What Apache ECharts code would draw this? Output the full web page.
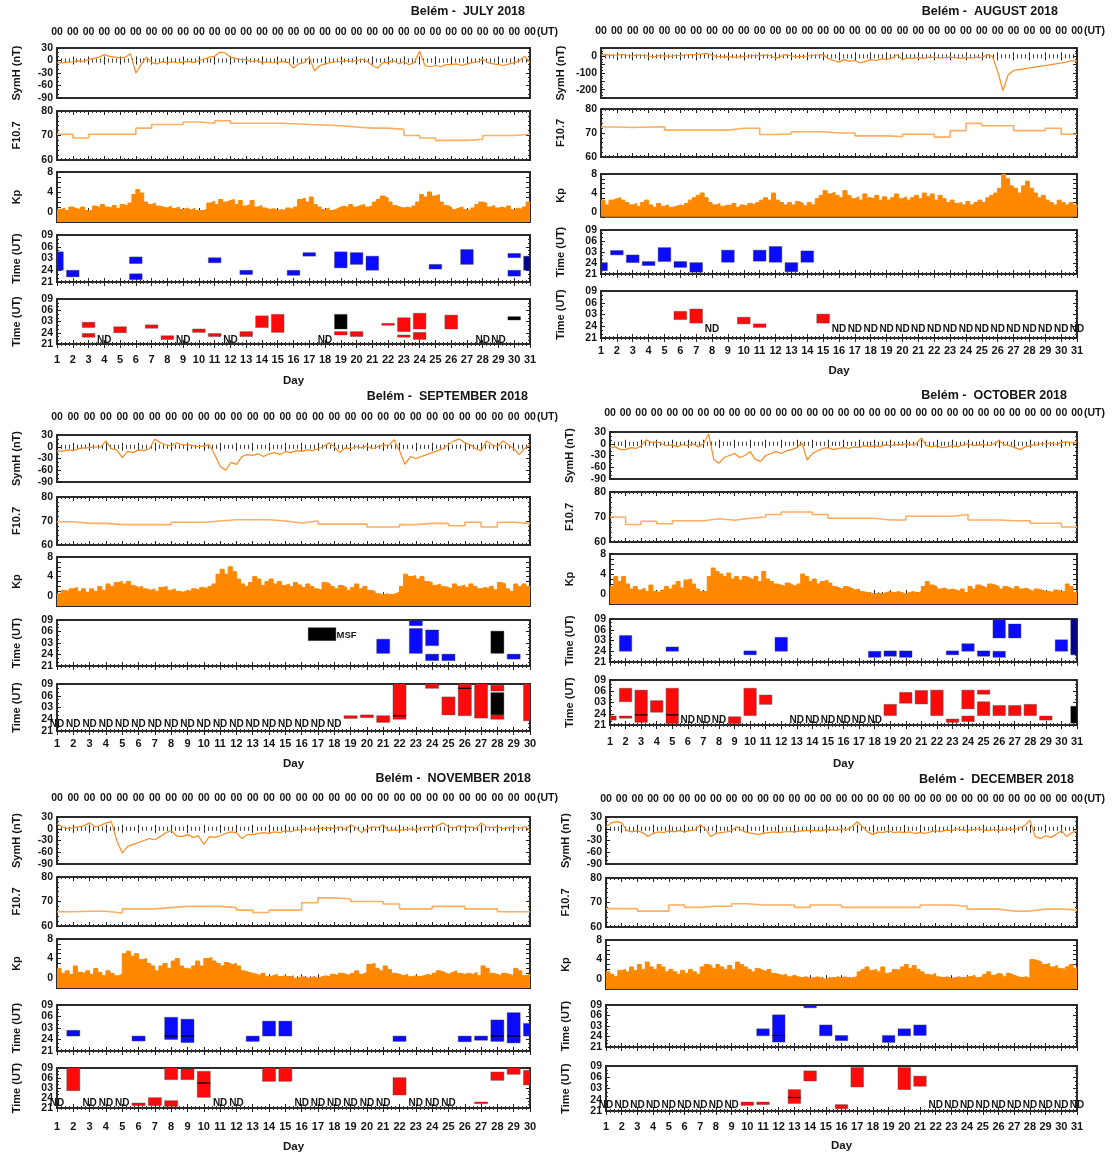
<!DOCTYPE html>
<html><head><meta charset="utf-8">
<script src="https://cdn.jsdelivr.net/npm/echarts@6/dist/echarts.min.js"></script>
<style>html,body{margin:0;padding:0;background:#fff}#c{width:1113px;height:1156px}</style>
</head><body><div id="c"></div>
<script>
// ---------------- DATA ----------------
const timeTickValues = [0, 3, 6, 9, 12];
const timeTickLabels = ['21','24','03','06','09'];
// SymH: 3 samples per day (00, 08, 16 UT)
const julySymH = [
 -5,-6,-4, -3,-1,-2, 2,5,8, 14,10,8, 6,8,16, -30,-10,8, -5,-8,-3, -5,-3,-6, -4,-2,-5, 0,3,8,
 10,20,18, 8,5,2, 2,-3,0, -5,-3,-6, -4,-2,-5, -18,-8,-5, 8,-25,-12, -8,-5,-3, -2,0,-3, 0,3,-2,
 -12,-18,-5, -5,0,-8, -3,-10,-5, 22,-12,-15, -12,-15,-10, -10,-8,-12, -8,-5,-3, 3,-5,-8, -10,-12,-8, -5,0,10,
 -5];
const augustSymH = [
 8,10,6, 8,12,5, 3,8,5, 2,-3,5, 3,0,5, 6,8,10, 10,14,18, 5,0,-3, -2,-5,-3, 0,2,5,
 4,8,5, -12,0,10, 2,-3,0, 2,5,8, 10,-15,-25, -35,-20,-30, -25,-40,-30, -20,-25,-15, -18,-12,10, -20,-10,-12,
 -8,-12,-5, -6,-10,-8, -5,-8,-12, -6,-10,-5, -8,10,0, -90,-205,-110, -85,-80,-75, -70,-65,-60, -55,-50,-45, -40,-35,-25,
 -30];
const septemberSymH = [
 -10,-12,-8, -10,-5,-3, -2,0,-1, 15,-5,-8, -28,-12,-15, -8,-10,-5, 20,10,5, 2,10,5, 5,3,0, 3,5,-20,
 -50,-60,-40, -45,-25,-20, -22,-18,-25, -18,-15,-20, -12,-15,-10, -12,-8,-10, -5,0,10, 0,-15,-3, -5,0,-3, 2,-5,0,
 5,3,18, -10,-45,-25, -30,-25,-20, -15,-10,-5, 5,15,20, 10,5,-5, -10,15,5, 0,15,5, -5,-20,-5,
 5];
const octoberSymH = [
 -10,-8,-15, -15,-10,-12, -5,10,3, 5,0,-5, -3,-8,-2, -5,0,-8, 0,25,-40, -50,-35,-30, -25,-35,-30, -20,-40,-45,
 -30,-25,-20, -25,-18,-15, -10,2,-42, -25,-18,-12, -10,-15,-12, -10,-12,-8, -10,-5,-8, -5,-8,-3, -5,-2,-3, 0,-3,0,
 15,-5,-8, -5,-10,-8, -5,-8,-3, 0,-5,-3, -2,-5,0, 8,-3,-5, -10,-15,-8, -5,-3,0, 0,2,-2, 3,5,2,
 5];
const novemberSymH = [
 12,5,0, 3,5,8, 15,5,8, 15,18,-30, -62,-45,-40, -35,-30,-25, -28,-20,-10, -5,-18,-20, -15,-22,-18, -40,-20,-22,
 -18,-12,-8, -10,-25,-15, -15,-12,-10, -12,-8,-10, -5,-8,-3, -2,0,-3, 2,0,3, 0,5,-2, 10,3,-10, 0,5,3,
 10,-5,-3, -5,-2,0, -3,2,5, 3,8,15, 5,2,8, 3,5,0, 15,5,3, 5,0,3, 5,0,5,
 -3];
const decemberSymH = [
 5,15,18, 15,-5,-8, -5,-10,-20, -12,-8,-10, -5,-8,-5, -8,-5,-3, 10,0,-20, -12,-10,-8, -5,5,-5, -10,-12,-15,
 -12,-10,-8, -10,-8,-7, -8,-6,-5, -5,-4,-6, -3,-2,-4, 0,-2,5, 18,5,-8, -15,-8,-10, -5,-10,-8, -10,-8,-12,
 -10,-12,-8, -5,-8,-3, -5,0,-3, -5,-2,0, -3,-5,-2, -5,-3,0, -2,2,8, 22,-20,-25, -18,-22,-15, -5,-20,-10,
 -5];

// F10.7: one value per day
const julyF107 = [70.5,69,70.5,70.5,70.5,73,74.5,74.5,75.5,75,76,75,75,75,74.8,74.5,74.3,74,73.5,73,73,72.5,70,69,68,68,68.5,70,70,70.5,70.5];
const augustF107 = [72.5,72.3,72.5,72.6,71.2,71.2,71.2,71.2,72,72,69.4,69.6,70.5,70.5,70,70,68.8,68.8,68.5,69.5,69.5,68.3,71,74,73,73,71,71,72,69.5,69.5];
const septemberF107 = [69.7,69,69,68.5,68.5,68.5,68.5,69.5,69.5,70,70.5,70.5,70.5,70,69.2,70,68.7,68.7,68.7,67.5,67.5,68.5,69,69,68,69.5,67.5,69.5,69,69];
const octoberF107 = [70,67,68.3,67.3,68.5,68.5,69.3,68.7,69.5,70,71,72,72,71,69.5,69.5,69.5,68.8,68.8,70.3,70.3,70.3,71,68.8,68.8,68.5,68.5,67.5,67.5,66,66];
const novemberF107 = [65.8,66,66,65.3,67,67,67.5,68,68,68,67.5,66.5,65.5,66.5,66.5,69.5,71.5,71,70,70,69,67,67,68,68,67,67,65.8,65.8,65.8];
const decemberF107 = [67.5,67.5,66.5,66.5,69,68,68.5,68.5,69.5,69,69,69,68,69,69,68,68,68,68,68,69,69,68.5,67.3,67.3,66.5,66.5,67.3,67.3,67,67];

// Kp: 4 samples per day
const julyKp = [
 0.5,0.8,0.3,1.0, 0.7,0.5,1.0,0.3, 0.3,1.2,0.8,1.5, 1.0,0.8,1.3,0.7, 1.5,1.2,1.8,3.5, 4.5,3.8,2.0,1.5,
 1.8,1.2,1.0,0.8, 1.2,0.7,1.0,0.5, 0.8,0.4,0.8,0.3, 0.3,0.5,1.8,2.2, 1.5,2.5,2.0,2.3, 2.5,1.5,2.3,1.2,
 1.5,2.3,1.0,1.3, 0.8,0.5,0.7,0.3, 0.5,0.3,0.8,0.5, 1.0,2.5,2.8,2.0, 3.0,1.5,1.0,0.5, 0.8,0.3,0.6,1.0,
 1.2,0.8,1.5,1.0, 1.3,1.5,1.0,1.2, 2.0,2.5,3.2,2.8, 2.0,1.3,1.0,0.8, 1.0,0.7,1.2,2.0, 3.5,3.0,4.0,3.2,
 3.5,2.0,1.3,1.0, 0.5,0.8,1.0,0.5, 0.3,0.8,1.5,2.0, 1.8,1.0,1.3,0.8, 1.0,0.7,1.2,0.5, 0.8,0.5,1.0,2.0,
 1.8];
const augustKp = [
 2.5,1.5,2.5,2.8, 3.0,2.5,2.0,1.5, 1.8,1.2,2.0,2.5, 1.5,1.0,1.8,1.2, 1.5,1.0,1.2,1.5, 1.2,1.8,2.5,3.0,
 3.5,4.0,3.0,2.0, 1.5,1.8,1.2,1.5, 1.3,1.8,1.0,1.5, 1.2,1.8,1.5,2.0, 2.5,3.0,2.5,4.0, 2.5,2.0,1.5,2.0,
 1.5,2.2,1.8,1.3, 2.0,1.5,2.8,3.5, 4.5,3.8,4.2,3.5, 3.0,4.5,3.5,2.8, 3.2,2.5,3.8,3.0, 2.8,3.5,2.5,3.2,
 2.5,3.0,3.8,2.8, 3.2,2.5,3.0,3.5, 2.8,4.0,3.2,3.8, 2.5,3.5,2.8,2.0, 2.5,1.8,2.0,1.5, 2.2,1.5,2.0,2.5,
 2.0,3.0,3.5,4.0, 5.0,8.0,7.0,5.5, 5.0,4.0,5.5,6.5, 5.0,4.0,3.0,3.5, 2.5,2.0,1.5,2.5, 2.0,1.5,2.0,1.5,
 1.0];
const septemberKp = [
 0.5,1.2,1.0,1.5, 1.8,1.0,1.5,0.8, 1.5,1.0,2.0,1.2, 2.5,2.0,2.8,3.0, 2.5,3.0,2.2,1.8, 2.0,1.5,1.2,1.5,
 1.0,1.8,2.0,1.2, 1.5,1.0,0.8,1.2, 1.0,1.5,1.2,1.8, 1.5,2.0,2.5,4.5, 5.5,4.5,6.0,5.0, 3.5,2.5,2.0,2.8,
 4.0,3.5,2.2,3.0, 3.5,2.5,3.0,2.2, 2.5,2.0,2.8,2.3, 1.8,2.5,2.0,1.5, 1.2,2.8,2.5,2.0, 1.5,2.2,1.8,1.2,
 1.8,2.5,1.5,2.0, 1.2,1.0,0.5,0.3, 0.5,0.3,0.5,0.8, 2.0,4.5,4.0,4.2, 3.5,4.0,3.0,2.8, 2.2,2.5,2.0,1.8,
 1.5,2.5,2.0,2.3, 1.8,2.5,2.0,1.5, 1.8,1.5,2.0,1.3, 2.8,2.5,1.5,1.0, 2.5,2.0,2.5,2.0,
 1.8];
const octoberKp = [
 1.5,3.5,2.5,3.5, 2.0,1.0,1.5,0.8, 1.2,0.5,1.8,0.5, 0.2,0.8,1.5,1.0, 1.8,2.5,1.2,2.8, 3.0,2.0,1.0,0.5,
 0.5,3.5,5.2,4.5, 4.0,3.5,4.2,3.0, 3.5,2.8,3.5,3.2, 2.8,3.5,2.5,4.5, 3.0,2.5,2.0,1.8, 1.5,2.2,1.8,1.5,
 2.0,4.0,3.5,2.5, 3.0,2.0,2.5,2.8, 2.2,1.5,1.2,1.0, 1.5,1.2,0.8,1.0, 0.5,0.3,0.2,0.0, 0.2,0.0,0.3,0.5,
 0.2,0.5,0.3,0.0, 0.3,0.5,0.2,0.5, 1.5,2.5,1.8,1.5, 1.0,1.2,0.8,1.0, 0.8,0.5,1.0,0.3, 1.5,1.0,1.8,1.5,
 1.2,2.0,1.8,1.5, 1.0,1.5,1.2,0.8, 1.5,1.0,1.2,0.8, 0.5,1.0,0.8,0.5, 0.5,0.3,0.8,0.5, 0.5,2.0,1.5,0.3,
 0.8];
const novemberKp = [
 2.0,1.0,1.5,0.8, 2.5,1.2,1.0,1.5, 0.8,2.0,1.2,0.5, 1.5,1.0,0.5,0.8, 5.0,5.5,4.5,5.0, 3.8,4.0,3.0,2.5,
 1.5,2.5,3.0,2.0, 3.5,4.0,2.5,2.0, 1.8,2.5,3.5,2.5, 4.0,4.2,3.5,3.0, 2.5,3.2,2.8,3.0, 2.5,1.5,1.2,1.0,
 0.8,0.5,1.0,0.3, 0.5,0.8,0.3,0.5, 0.2,0.5,0.0,0.3, 0.2,0.0,0.3,0.0, 0.3,0.5,0.2,0.8, 0.5,1.0,0.8,0.5,
 1.0,1.5,0.8,1.2, 2.8,3.0,2.0,1.5, 2.5,1.8,1.0,0.8, 0.5,0.8,0.3,0.5, 0.3,0.5,0.8,0.5, 1.0,1.5,1.2,0.8,
 1.2,1.5,1.0,0.8, 1.0,0.8,1.2,0.5, 2.5,2.0,1.0,0.8, 0.5,1.0,0.8,0.5, 2.0,1.5,0.5,0.8,
 0.5];
const decemberKp = [
 1.5,1.0,0.5,1.8, 2.0,1.5,2.5,1.8, 3.0,2.0,3.5,2.5, 2.0,3.0,2.5,1.5, 2.0,1.5,1.0,1.8, 1.2,2.0,1.5,1.0,
 2.5,3.0,2.8,2.2, 3.0,2.5,2.0,2.8, 2.0,3.5,3.0,2.5, 2.0,1.5,2.2,1.8, 1.5,2.0,1.2,1.0, 0.8,1.0,0.5,0.8,
 0.5,0.3,0.5,0.2, 0.3,0.5,0.2,0.0, 0.3,0.2,0.5,0.3, 0.5,0.2,0.3,0.5, 1.5,2.0,2.5,1.8, 2.0,1.5,2.5,1.2,
 1.5,2.0,1.8,2.5, 3.0,2.2,2.8,2.0, 1.5,1.0,0.8,1.2, 0.5,0.3,0.5,0.2, 0.3,0.5,0.2,0.5, 0.5,0.8,0.3,0.5,
 1.0,1.5,0.8,1.2, 1.0,0.5,1.2,0.8, 0.5,0.3,0.5,0.2, 4.0,3.8,3.5,3.0, 3.2,2.5,2.8,2.2, 2.0,2.5,3.0,2.2,
 2.5];

// Time (UT) boxes: [day, from, to, colour(0 blue,1 red,2 black,3 navy), width(days), median]
// vertical values are hours after 21 UT (0 = 21, 3 = 24, 6 = 03, 9 = 06, 12 = 09)
const julyBlue = [[1,3.0,7.7,0],[2,1.3,3.0,0],[6,4.7,6.4,0],[6,0.6,2.1,0],[11,4.9,6.2,0],[13,1.9,3.0,0],[16,1.7,3.0,0],[17,6.6,7.5,0],[19,3.6,7.7,0],[20,4.5,7.5,0],[21,3.0,6.6,0],[25,3.3,4.5,0],[27,4.5,8.3,0],[30,6.2,7.3,0],[30,1.5,3.0,0],[31,3.0,6.6,3]];
const julyRed = [[3,4.4,5.8,1],[3,1.8,2.8,1],[5,3.0,4.6,1],[7,4.2,5.1,1],[8,1.2,2.2,1],[10,3.1,4.0,1],[11,2.0,2.8,1],[13,2.0,3.3,1],[14,4.4,7.5,1],[15,3.1,7.9,1],[19,4.0,7.9,2],[19,2.4,3.3,1],[20,2.0,3.3,1],[22,5.0,5.5,1],[23,3.3,7.0,1],[23,1.8,2.4,1],[24,4.0,8.2,1],[24,1.2,3.1,1],[26,4.0,7.7,1],[30,6.4,7.3,2]];
const julyND = [4,9,12,18,28,29];
const augustBlue = [[1,0.9,3.1,0],[2,5.2,6.4,0],[3,3.1,5.2,0],[4,2.3,3.4,0],[5,3.4,7.2,0],[6,1.8,3.4,0],[7,0.5,3.1,0],[9,3.2,6.5,0],[11,3.5,6.5,0],[12,3.2,7.5,0],[13,0.6,3.1,0],[14,3.2,6.3,0]];
const augustRed = [[6,4.7,6.8,1],[7,3.8,7.4,1],[10,3.6,5.3,1],[11,2.7,3.6,1],[15,3.8,6.1,1]];
const augustND = [8,16,17,18,19,20,21,22,23,24,25,26,27,28,29,30,31];
const septemberBlue = [[17.25,6.6,10.0,2,1.7],[21,3.3,7.0,0],[23,10.5,11.8,0],[23,3.3,9.8,0],[24,5.3,9.4,0],[24,1.4,3.1,0],[25,1.4,3.1,0],[28,3.3,9.1,2],[29,1.8,3.1,0]];
const septemberRed = [[19,3.2,3.9,1],[20,3.4,4.1,1],[21,2.2,3.9,1],[22,3.0,12,1,0.8,3.9],[24,10.9,12,1],[25,4.1,8.7,1],[26,3.9,12,1,0.8,10.9],[27,3.3,12,1],[28,10.2,11.7,1],[28,4.1,9.8,2],[28,3.0,4.1,1],[30,2.6,12,1]];
const septemberND = [1,2,3,4,5,6,7,8,9,10,11,12,13,14,15,16,17,18];
const septemberNotes = [[18.75,8.1,'MSF']];
const octoberBlue = [[2,3.0,7.4,0],[5,3.0,4.2,0],[10,2.0,3.1,0],[12,3.0,6.9,0],[18,1.3,3.0,0],[19,1.6,3.1,0],[20,1.3,3.1,0],[23,2.0,3.1,0],[24,3.0,5.1,0],[25,1.6,3.1,0],[26,6.7,11.8,0],[26,1.3,3.0,0],[27,6.7,10.6,0],[30,3.0,6.2,0],[31,2.0,12,3]];
const octoberRed = [[1,1.3,2.4,1],[2,6.2,9.8,1],[2,1.8,2.4,1],[3,0.7,9.3,1,0.8,2.7],[4,3.4,6.5,1],[5,0.4,9.8,1,0.8,2.7],[9,0.4,2.2,1],[10,2.5,9.8,1],[11,5.5,8.0,1],[19,2.5,5.5,1],[20,5.8,8.7,1],[21,5.6,9.2,1],[22,2.5,9.3,1],[23,0.7,1.6,1],[24,4.3,9.3,1],[24,0.9,2.4,1],[25,8.2,9.3,1],[25,2.5,6.2,1],[26,2.5,5.2,1],[27,2.5,5.2,1],[28,2.5,5.5,1],[29,1.3,2.4,1],[31,0.5,5.0,2]];
const octoberND = [6,7,8,13,14,15,16,17,18];
const novemberBlue = [[2,3.9,5.4,0],[6,2.6,3.9,0],[8,3.0,8.8,0,0.8,3.9],[9,2.2,8.3,0,0.8,3.9],[13,2.5,3.9,0],[14,3.9,7.8,0],[15,3.9,7.8,0],[22,2.5,3.9,0],[26,2.4,3.9,0],[27,2.8,3.9,0],[28,2.5,8.1,0,0.8,3.9],[29,2.1,10.0,0,0.8,3.9],[30,3.9,7.2,0]];
const novemberRed = [[2,5.2,12,1],[6,0.7,1.5,1],[7,0.7,3.1,1],[8,8.5,12,1],[8,0.5,2.2,1],[9,8.5,11.7,1],[10,3.2,11.0,1,0.8,7.5],[14,8.0,12,1],[15,8.0,12,1],[22,3.9,9.1,1],[27,1.3,1.8,1],[28,8.3,10.8,1],[29,10.1,12,1],[30,6.9,11.3,1]];
const novemberND = [1,3,4,5,11,12,16,17,18,19,20,21,23,24,25];
const decemberBlue = [[11,3.2,5.2,0],[12,1.4,9.2,0,0.8,3.3],[14,11.2,11.8,0],[15,3.2,6.3,0],[16,1.8,3.3,0],[19,1.3,3.3,0],[20,3.2,5.2,0],[21,3.3,6.3,0]];
const decemberRed = [[10,1.5,2.4,1],[11,1.7,2.4,1],[13,2.0,5.7,1,0.8,3.6],[14,8.0,10.7,1],[16,0.6,1.7,1],[17,6.4,11.6,1],[20,5.7,11.6,1],[21,6.6,9.3,1]];
const decemberND = [1,2,3,4,5,6,7,8,9,22,23,24,25,26,27,28,29,30,31];

// ---------------- LAYOUT ----------------
const months = [
 {title:'Belém -  JULY 2018', days:31, left:57, right:530, titleRight:525, titleY:13, topY:33,
  fr:[[48,98],[111,160],[172,222],[235,282],[299,344]], dayY:360, dayNameY:381,
  sym:julySymH, symMin:-90, symMax:30, symInt:30, f107:julyF107, kp:julyKp, kpMin:-2,
  blue:julyBlue, red:julyRed, nd:julyND, ndY:1.1, notes:[]},
 {title:'Belém -  AUGUST 2018', days:31, left:601, right:1077, titleRight:1058, titleY:13, topY:32,
  fr:[[48,98],[109,157],[174,216.75],[230,274],[291,338]], dayY:351, dayNameY:371,
  sym:augustSymH, symMin:-250, symMax:50, symInt:50, symStep:100, f107:augustF107, kp:augustKp, kpMin:-1,
  blue:augustBlue, red:augustRed, nd:augustND, ndY:2.3, notes:[]},
 {title:'Belém -  SEPTEMBER 2018', days:30, left:57, right:530, titleRight:528, titleY:398, topY:418,
  fr:[[435,482],[497,545],[557,606],[620,666],[684,731]], dayY:744, dayNameY:764,
  sym:septemberSymH, symMin:-90, symMax:30, symInt:30, f107:septemberF107, kp:septemberKp, kpMin:-2,
  blue:septemberBlue, red:septemberRed, nd:septemberND, ndY:1.8, notes:septemberNotes},
 {title:'Belém -  OCTOBER 2018', days:31, left:610, right:1077, titleRight:1067, titleY:397, topY:414,
  fr:[[432,479],[492,542],[554,604],[619,662],[680,725]], dayY:742, dayNameY:764,
  sym:octoberSymH, symMin:-90, symMax:30, symInt:30, f107:octoberF107, kp:octoberKp, kpMin:-2,
  blue:octoberBlue, red:octoberRed, nd:octoberND, ndY:1.3, notes:[]},
 {title:'Belém -  NOVEMBER 2018', days:30, left:57, right:530, titleRight:531, titleY:780, topY:799,
  fr:[[817,864],[877,926],[939,988],[1005,1051],[1068,1108]], dayY:1127, dayNameY:1147,
  sym:novemberSymH, symMin:-90, symMax:30, symInt:30, f107:novemberF107, kp:novemberKp, kpMin:-2,
  blue:novemberBlue, red:novemberRed, nd:novemberND, ndY:1.4, notes:[]},
 {title:'Belém -  DECEMBER 2018', days:31, left:606, right:1077, titleRight:1074, titleY:781, topY:800,
  fr:[[817,864],[878,927],[940,989],[1005,1047],[1066,1111]], dayY:1127, dayNameY:1146,
  sym:decemberSymH, symMin:-90, symMax:30, symInt:30, f107:decemberF107, kp:decemberKp, kpMin:-2,
  blue:decemberBlue, red:decemberRed, nd:decemberND, ndY:1.5, notes:[]}
];

// ---------------- CHART ----------------
const FONT = '"Liberation Sans", Arial, Helvetica, sans-serif';
const INK = '#151515';
const COLORS = ['#0a0aff', '#ff0a0a', '#000000', '#00008b'];
const chart = echarts.init(document.getElementById('c'), null, {renderer:'canvas', width:1113, height:1156});

function renderBox(params, api) {
  const x = api.value(0), y0 = api.value(1), y1 = api.value(2), c = api.value(3), w = api.value(4), mid = api.value(5);
  const cs = params.coordSys;
  const a = api.coord([x - w / 2, y1]), b = api.coord([x + w / 2, y0]);
  const x0 = Math.max(a[0], cs.x), x1 = Math.min(b[0], cs.x + cs.width);
  const yt = Math.max(a[1], cs.y), yb = Math.min(b[1], cs.y + cs.height);
  if (x1 <= x0 || yb <= yt) return null;
  const children = [{type:'rect', shape:{x:x0, y:yt, width:x1 - x0, height:yb - yt},
    style:{fill:COLORS[c], stroke:'rgba(70,70,70,0.5)', lineWidth:0.8}}];
  if (mid > -50) {
    const ym = api.coord([x, mid])[1];
    children.push({type:'line', shape:{x1:x0, y1:ym, x2:x1, y2:ym}, style:{stroke:'#000', lineWidth:1.2}});
  }
  return {type:'group', children};
}
function textSeries(g, pts, label, size) {
  return {type:'custom', xAxisIndex:2 * g, yAxisIndex:2 * g, clip:false, silent:true, animation:false, z:5,
    data: pts.map(p => [p[0], p[1]]),
    renderItem: (params, api) => {
      const p = api.coord([api.value(0), api.value(1)]);
      return {type:'text', x:p[0], y:p[1], style:{text:label, fontFamily:FONT, fontSize:size || 10, fontWeight:'bold',
        fill:INK, align:'center', verticalAlign:'middle'}};
    }};
}
// Time (UT) tick labels drawn at the axis' own tick positions (panels are too short for automatic labels)
function timeLabelSeries(g) {
  return {type:'custom', xAxisIndex:2 * g, yAxisIndex:2 * g, clip:false, silent:true, animation:false, z:5,
    data: timeTickValues.map(v => [1, v]),
    renderItem: (params, api) => {
      const v = api.value(1);
      const p = api.coord([api.value(0), v]);
      return {type:'text', x:params.coordSys.x - 4, y:p[1], style:{text:timeTickLabels[Math.round(v / 3)],
        fontFamily:FONT, fontSize:10.5, fontWeight:'bold', fill:INK, align:'right', verticalAlign:'middle'}};
    }};
}
const grids = [], xAxes = [], yAxes = [], series = [], titles = [];
const tickStyle = {show:true, inside:true, length:4, lineStyle:{color:'#222', width:1}};
const minorStyle = (n) => ({show:true, splitNumber:n, length:2, lineStyle:{color:'#333', width:1}});

months.forEach((m, mi) => {
  titles.push({text:m.title, right:1113 - m.titleRight, top:m.titleY - 8, padding:0,
    textStyle:{fontFamily:FONT, fontSize:12.5, fontWeight:'bold', color:INK}});
  titles.push({text:'(UT)', left:m.right + 7, top:m.topY - 6, padding:0,
    textStyle:{fontFamily:FONT, fontSize:10.5, fontWeight:'bold', color:INK}});
  for (let p = 0; p < 5; p++) {
    const g = mi * 5 + p;
    const t = m.fr[p][0], b = m.fr[p][1];
    grids.push({left:m.left, top:t, width:m.right - m.left, height:b - t, show:true,
      borderColor:'#2b2b2b', borderWidth:2, backgroundColor:'#fff', containLabel:false, outerBoundsMode:'none'});
    const xBase = {type:'value', gridIndex:g, min:1, max:m.days, interval:1,
      axisLine:{show:false}, splitLine:{show:false}, axisTick:tickStyle, minorTick:minorStyle(4)};
    xAxes.push(Object.assign({}, xBase, {position:'bottom',
      axisLabel: p === 4 ? {show:true, margin:m.dayY - b - 6, fontFamily:FONT, fontSize:11, fontWeight:'bold', color:INK, showMinLabel:true, showMaxLabel:true, hideOverlap:false} : {show:false},
      name: p === 4 ? 'Day' : '', nameLocation:'middle', nameGap:m.dayNameY - b - 6,
      nameTextStyle:{fontFamily:FONT, fontSize:11.5, fontWeight:'bold', color:INK}}));
    xAxes.push(Object.assign({}, xBase, {position:'top',
      axisLabel: p === 0 ? {show:true, formatter:() => '00', margin:t - m.topY - 5, fontFamily:FONT, fontSize:10.5, fontWeight:'bold', color:INK, showMinLabel:true, showMaxLabel:true, hideOverlap:false} : {show:false}}));
    let yd;
    if (p === 0) {
      const step = m.symStep || m.symInt;
      yd = {min:m.symMin, max:m.symMax, interval:m.symInt, name:'SymH (nT)', minor:3,
        fmt: v => (Math.round(v) % step === 0 ? String(Math.round(v)) : '')};
    } else if (p === 1) {
      yd = {min:60, max:80, interval:10, name:'F10.7', minor:5, fmt: v => String(v)};
    } else if (p === 2) {
      yd = {min:m.kpMin, max:8, interval:1, name:'Kp', minor:0, fmt: v => (v === 0 || v === 4 || v === 8 ? String(v) : '')};
    } else {
      yd = {min:0, max:12, interval:3, name:'Time (UT)', minor:3, fmt: null};
    }
    const yBase = {type:'value', gridIndex:g, min:yd.min, max:yd.max, interval:yd.interval,
      axisLine:{show:false}, splitLine:{show:false}, axisTick:tickStyle,
      minorTick: yd.minor ? minorStyle(yd.minor) : {show:false}};
    yAxes.push(Object.assign({}, yBase, {position:'left',
      axisLabel: yd.fmt ? {show:true, margin:4, formatter:yd.fmt, fontFamily:FONT, fontSize:10.5, fontWeight:'bold', color:INK,
        showMinLabel:true, showMaxLabel:true, hideOverlap:false} : {show:false},
      name:yd.name, nameLocation:'middle', nameGap:35, nameRotate:90,
      nameTextStyle:{fontFamily:FONT, fontSize:11, fontWeight:'bold', color:INK}}));
    yAxes.push(Object.assign({}, yBase, {position:'right', axisLabel:{show:false}}));
  }
  const g0 = mi * 5;
  series.push({type:'line', xAxisIndex:2 * g0, yAxisIndex:2 * g0, symbol:'none', clip:true, silent:true, animation:false,
    data: m.sym.map((v, i) => [1 + i / 3, v]), lineStyle:{color:'#ff8a1f', width:1.2}});
  series.push({type:'line', xAxisIndex:2 * (g0 + 1), yAxisIndex:2 * (g0 + 1), symbol:'none', step:'end', clip:true, silent:true, animation:false,
    data: m.f107.map((v, i) => [1 + i, v]), lineStyle:{color:'#ffae62', width:1.6}});
  series.push({type:'line', xAxisIndex:2 * (g0 + 2), yAxisIndex:2 * (g0 + 2), symbol:'none', step:'end', clip:true, silent:true, animation:false,
    data: m.kp.map((v, i) => [1 + i / 4, v]), lineStyle:{color:'#ff8800', width:1},
    areaStyle:{color:'#ff8800', opacity:1, origin:'start'}});
  const norm = arr => arr.map(r => [r[0], r[1], r[2], r[3], r[4] != null ? r[4] : 0.8, r[5] != null ? r[5] : -99]);
  series.push({type:'custom', xAxisIndex:2 * (g0 + 3), yAxisIndex:2 * (g0 + 3), renderItem:renderBox, data:norm(m.blue), silent:true, animation:false});
  series.push({type:'custom', xAxisIndex:2 * (g0 + 4), yAxisIndex:2 * (g0 + 4), renderItem:renderBox, data:norm(m.red), silent:true, animation:false});
  series.push(timeLabelSeries(g0 + 3));
  series.push(timeLabelSeries(g0 + 4));
  series.push(textSeries(g0 + 4, m.nd.map(d => [d, m.ndY]), 'ND'));
  m.notes.forEach(n => series.push(textSeries(g0 + 3, [[n[0], n[1]]], n[2], 9.5)));
});

chart.setOption({animation:false, backgroundColor:'#fff', title:titles, grid:grids, xAxis:xAxes, yAxis:yAxes, series:series});
</script>
</body></html>
